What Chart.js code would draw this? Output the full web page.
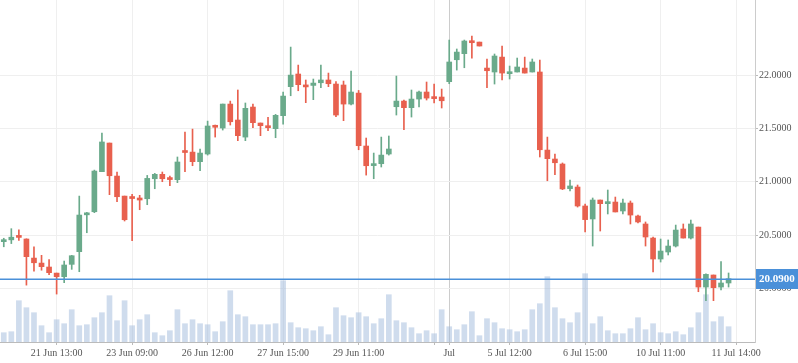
<!DOCTYPE html>
<html>
<head>
<meta charset="utf-8">
<script src="https://cdn.jsdelivr.net/npm/chart.js@4.4.0/dist/chart.umd.min.js"></script>
<style>
  html, body { margin: 0; padding: 0; background: #fff; }
  #chart { display: block; }
</style>
</head>
<body>
<canvas id="chart" width="798" height="363"></canvas>
<script>
// hourly candles
const opens = [
  20.438, 20.455, 20.485, 20.463, 20.284, 20.237, 20.200, 20.143, 20.109, 20.225,
  20.344, 20.690, 20.719, 21.095, 21.364, 21.054, 20.866, 20.847, 20.848, 20.841,
  21.029, 21.070, 21.025, 21.020, 21.279, 21.279, 21.189, 21.261, 21.516, 21.505,
  21.730, 21.580, 21.420, 21.702, 21.552, 21.524, 21.499, 21.621, 21.893, 22.012,
  21.895, 21.905, 21.930, 21.956, 21.918, 21.909, 21.730, 21.833, 21.336, 21.152,
  21.170, 21.261, 21.705, 21.758, 21.696, 21.777, 21.843, 21.785, 21.796, 21.940,
  22.146, 22.203, 22.322, 22.312, 22.068, 22.031, 22.171, 22.015, 22.031, 22.068,
  22.031, 22.031, 21.298, 21.214, 21.167, 20.936, 20.951, 20.773, 20.651, 20.829,
  20.795, 20.810, 20.726, 20.801, 20.679, 20.604, 20.472, 20.275, 20.341, 20.397,
  20.557, 20.472, 20.575, 20.012, 20.125, 20.012, 20.050
];
const highs = [
  20.470, 20.560, 20.550, 20.465, 20.390, 20.310, 20.270, 20.143, 20.256, 20.310,
  20.866, 20.713, 21.110, 21.458, 21.364, 21.092, 20.866, 20.882, 20.873, 21.060,
  21.079, 21.092, 21.054, 21.233, 21.467, 21.495, 21.308, 21.570, 21.533, 21.730,
  21.758, 21.862, 21.740, 21.730, 21.552, 21.605, 21.633, 21.843, 22.265, 22.096,
  21.956, 21.965, 22.096, 22.021, 21.940, 21.946, 22.040, 21.858, 21.411, 21.270,
  21.420, 21.430, 21.993, 21.768, 21.862, 21.852, 21.937, 21.918, 21.871, 22.331,
  22.247, 22.331, 22.369, 22.312, 22.153, 22.200, 22.275, 22.087, 22.162, 22.171,
  22.153, 22.143, 21.420, 21.261, 21.177, 21.017, 20.970, 20.792, 20.848, 20.829,
  20.923, 20.857, 20.839, 20.820, 20.688, 20.623, 20.482, 20.463, 20.454, 20.594,
  20.604, 20.641, 20.575, 20.137, 20.125, 20.250, 20.144
];
const lows = [
  20.390, 20.420, 20.450, 20.030, 20.160, 20.170, 20.128, 19.946, 20.053, 20.178,
  20.156, 20.522, 20.710, 21.095, 20.879, 20.813, 20.632, 20.447, 20.738, 20.785,
  20.935, 21.001, 20.963, 20.992, 21.095, 21.151, 21.104, 21.251, 21.420, 21.486,
  21.533, 21.386, 21.386, 21.508, 21.433, 21.480, 21.414, 21.542, 21.808, 21.855,
  21.743, 21.771, 21.883, 21.893, 21.611, 21.574, 21.721, 21.301, 21.063, 21.029,
  21.139, 21.251, 21.627, 21.489, 21.608, 21.702, 21.768, 21.740, 21.693, 21.921,
  22.049, 22.071, 22.162, 22.275, 21.883, 21.918, 21.956, 21.965, 22.031, 22.021,
  22.031, 21.233, 21.010, 21.067, 20.926, 20.914, 20.763, 20.529, 20.397, 20.538,
  20.698, 20.717, 20.698, 20.604, 20.613, 20.397, 20.153, 20.247, 20.313, 20.388,
  20.472, 20.463, 19.968, 19.884, 19.884, 19.984, 20.012
];
const closes = [
  20.442, 20.480, 20.478, 20.297, 20.240, 20.203, 20.147, 20.109, 20.219, 20.306,
  20.688, 20.707, 21.101, 21.374, 21.057, 20.860, 20.644, 20.843, 20.829, 21.032,
  21.070, 21.029, 21.021, 21.186, 21.275, 21.189, 21.270, 21.524, 21.512, 21.730,
  21.564, 21.433, 21.690, 21.555, 21.527, 21.508, 21.624, 21.805, 22.002, 21.912,
  21.891, 21.927, 21.956, 21.921, 21.627, 21.730, 21.843, 21.339, 21.151, 21.156,
  21.251, 21.308, 21.758, 21.696, 21.777, 21.843, 21.786, 21.781, 21.761, 22.125,
  22.218, 22.322, 22.306, 22.275, 22.043, 22.181, 22.021, 22.031, 22.078, 22.021,
  22.125, 21.301, 21.217, 21.179, 20.933, 20.961, 20.773, 20.645, 20.829, 20.795,
  20.810, 20.717, 20.801, 20.688, 20.623, 20.482, 20.275, 20.350, 20.397, 20.547,
  20.472, 20.604, 20.012, 20.131, 20.006, 20.050, 20.090
];
const volumes = [
  93, 103, 413, 343, 293, 163, 93, 223, 183, 323,
  163, 173, 243, 293, 463, 213, 413, 163, 223, 273,
  93, 63, 113, 323, 183, 223, 183, 173, 103, 203,
  513, 273, 253, 173, 173, 173, 183, 613, 193, 143,
  133, 113, 153, 73, 343, 263, 243, 293, 253, 183,
  233, 473, 213, 193, 143, 83, 113, 83, 323, 153,
  123, 173, 303, 63, 233, 193, 133, 123, 103, 123,
  323, 383, 653, 343, 233, 193, 293, 683, 183, 253,
  113, 83, 83, 133, 243, 123, 183, 93, 83, 103,
  73, 143, 293, 473, 203, 253, 153
];

// x axis: 100 hourly slots, labelled every 10th one
const slotCount = 100;
const tickIdx = [7, 17, 27, 37, 47, 57, 59, 67, 77, 87, 97];
const tickText = ["21 Jun 13:00", "23 Jun 09:00", "26 Jun 12:00", "27 Jun 15:00", "29 Jun 11:00",
  "", "Jul", "5 Jul 12:00", "6 Jul 15:00", "10 Jul 11:00", "11 Jul 14:00"];
const monthIdx = 59;
const priceTicks = [20.0, 20.5, 21.0, 21.5, 22.0];
const lastPrice = closes[closes.length - 1];

const labels = Array.from({ length: slotCount }, (_, i) => {
  const k = tickIdx.indexOf(i);
  return k >= 0 ? tickText[k] : "";
});

const GREEN = "#6aaa8b";
const RED = "#e8604e";
const candleColors = opens.map((o, i) => (closes[i] >= o ? GREEN : RED));
const FONT = { family: "'Liberation Serif', 'DejaVu Serif', serif", size: 10 };

const lastPricePlugin = {
  id: "lastPrice",
  afterDatasetsDraw(chart) {
    const { ctx, chartArea, scales } = chart;
    const y = Math.round(scales.y.getPixelForValue(lastPrice));
    ctx.save();
    // horizontal line at the last price, as a filled strip
    ctx.fillStyle = "#4a90d9";
    ctx.fillRect(chartArea.left, y - 0.5, chartArea.right - chartArea.left, 1.5);

    // price tag on the axis
    const bx = chartArea.right + 1;
    ctx.fillStyle = "#4a90d9";
    ctx.fillRect(bx, y - 10, chart.width - bx, 20);
    ctx.fillStyle = "#fff";
    ctx.font = "bold 11px 'Liberation Serif', serif";
    ctx.textBaseline = "middle";
    ctx.textAlign = "left";
    ctx.fillText(lastPrice.toFixed(4), bx + 3, y + 0.5);
    ctx.restore();
  },
};

new Chart(document.getElementById("chart"), {
  type: "bar",
  data: {
    labels: labels,
    datasets: [
      {
        label: "body",
        data: opens.map((o, i) => [o, closes[i]]),
        backgroundColor: candleColors,
        barThickness: 5,
        minBarLength: 2,
        grouped: false,
        borderWidth: 0,
        yAxisID: "y",
      },
      {
        label: "wick",
        data: lows.map((l, i) => [l, highs[i]]),
        backgroundColor: candleColors,
        barThickness: 1,
        grouped: false,
        borderWidth: 0,
        yAxisID: "y",
      },
      {
        label: "volume",
        data: volumes,
        backgroundColor: "rgba(160,186,220,0.5)",
        barThickness: 5,
        grouped: false,
        borderWidth: 0,
        yAxisID: "vol",
      },
    ],
  },
  options: {
    responsive: false,
    animation: false,
    layout: { padding: 0 },
    plugins: {
      legend: { display: false },
      tooltip: { enabled: false },
    },
    scales: {
      x: {
        type: "category",
        offset: true,
        grid: {
          offset: false,
          tickLength: 3,
          color: (c) => (c.index === monthIdx ? "#cccccc" : tickIdx.includes(c.index) ? "#efefef" : "rgba(0,0,0,0)"),
          tickColor: (c) => (tickIdx.includes(c.index) ? "#bbbbbb" : "rgba(0,0,0,0)"),
        },
        border: { color: "#bbbbbb" },
        ticks: {
          autoSkip: false,
          maxRotation: 0,
          minRotation: 0,
          padding: 2,
          font: FONT,
          color: "#555",
          callback: (v, i) => labels[i],
        },
        afterFit: (s) => {
          s.height = 21;
          s.paddingLeft = 0;
          s.paddingRight = 0;
        },
      },
      y: {
        position: "right",
        min: 19.496,
        max: 22.707,
        afterBuildTicks: (s) => {
          s.ticks = priceTicks.map((v) => ({ value: v }));
        },
        grid: { color: "#efefef", tickLength: 3, tickColor: "#bbbbbb" },
        border: { color: "#cccccc" },
        ticks: {
          padding: 1,
          font: FONT,
          color: "#555",
          callback: (v) => Number(v).toFixed(4),
        },
        afterFit: (s) => {
          s.width = 43;
          s.paddingTop = 0;
          s.paddingBottom = 0;
        },
      },
      vol: {
        display: false,
        min: 0,
        max: 3420,
      },
    },
  },
  plugins: [lastPricePlugin],
});
</script>
</body>
</html>
